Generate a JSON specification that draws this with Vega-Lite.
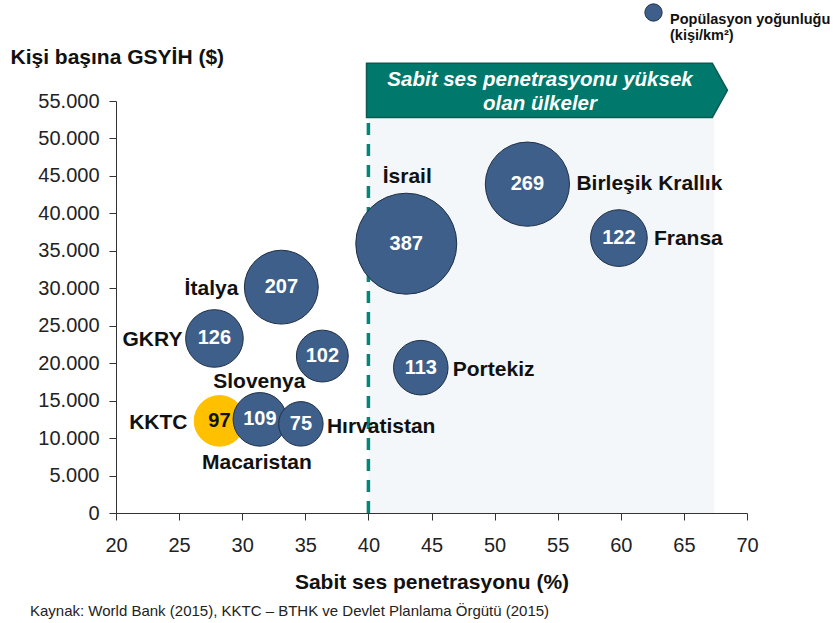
{
  "$schema": "https://vega.github.io/schema/vega-lite/v6.json",
  "width": 631,
  "height": 412,
  "autosize": {"type": "none"},
  "padding": {"left": 116, "top": 101, "right": 86, "bottom": 110},
  "background": "white",
  "config": {
    "view": {"stroke": null},
    "font": "Liberation Sans",
    "text": {"font": "Liberation Sans"}
  },
  "title": {
    "text": "Kaynak: World Bank (2015), KKTC – BTHK ve Devlet Planlama Örgütü (2015)",
    "orient": "bottom",
    "anchor": "start",
    "frame": "group",
    "dx": -86,
    "offset": 12,
    "font": "Liberation Sans",
    "fontSize": 15,
    "fontWeight": "normal",
    "color": "#222222"
  },
  "datasets": {
    "ulkeler": [
      {"ulke": "KKTC", "x": 28.2, "y": 12300, "d": 97, "grup": "KKTC"},
      {"ulke": "Macaristan", "x": 31.4, "y": 12500, "d": 109, "grup": "Popülasyon yoğunluğu"},
      {"ulke": "Hırvatistan", "x": 34.65, "y": 11900, "d": 75, "grup": "Popülasyon yoğunluğu"},
      {"ulke": "GKRY", "x": 27.8, "y": 23300, "d": 126, "grup": "Popülasyon yoğunluğu"},
      {"ulke": "İtalya", "x": 33.1, "y": 30150, "d": 207, "grup": "Popülasyon yoğunluğu"},
      {"ulke": "Slovenya", "x": 36.35, "y": 20950, "d": 102, "grup": "Popülasyon yoğunluğu"},
      {"ulke": "İsrail", "x": 43.0, "y": 35950, "d": 387, "grup": "Popülasyon yoğunluğu"},
      {"ulke": "Portekiz", "x": 44.15, "y": 19400, "d": 113, "grup": "Popülasyon yoğunluğu"},
      {"ulke": "Birleşik Krallık", "x": 52.6, "y": 43900, "d": 269, "grup": "Popülasyon yoğunluğu"},
      {"ulke": "Fransa", "x": 59.85, "y": 36700, "d": 122, "grup": "Popülasyon yoğunluğu"}
    ],
    "bolge": [{"x": 40, "x2": 67.4, "y": 0, "y2": 52800}],
    "ok": [
      {"x": 39.85, "y": 52800, "y2": 60030},
      {"x": 67.25, "y": 52800, "y2": 60030},
      {"x": 68.45, "y": 56420, "y2": 56420}
    ],
    "okYazi": [{"x": 53.6, "y": 57760, "t": "Sabit ses penetrasyonu yüksek\nolan ülkeler"}]
  },
  "encoding": {
    "x": {
      "field": "x",
      "type": "quantitative",
      "scale": {"domain": [20, 70], "nice": false, "zero": false},
      "axis": {
        "values": [20, 25, 30, 35, 40, 45, 50, 55, 60, 65, 70],
        "grid": false,
        "labelFlush": false,
        "domainColor": "#333333",
        "tickColor": "#333333",
        "tickSize": 7,
        "labelFont": "Liberation Sans",
        "labelFontSize": 20,
        "labelColor": "#222222",
        "labelPadding": 15,
        "title": "Sabit ses penetrasyonu (%)",
        "titleFont": "Liberation Sans",
        "titleFontSize": 21,
        "titleFontWeight": "bold",
        "titleColor": "#111111",
        "titlePadding": 16
      }
    },
    "y": {
      "field": "y",
      "type": "quantitative",
      "scale": {"domain": [0, 55000], "nice": false},
      "axis": {
        "values": [0, 5000, 10000, 15000, 20000, 25000, 30000, 35000, 40000, 45000, 50000, 55000],
        "labelExpr": "replace(format(datum.value, ',.0f'), ',', '.')",
        "grid": false,
        "labelFlush": false,
        "domainColor": "#333333",
        "tickColor": "#333333",
        "tickSize": 7,
        "labelFont": "Liberation Sans",
        "labelFontSize": 20,
        "labelColor": "#222222",
        "labelPadding": 10,
        "title": "Kişi başına GSYİH ($)",
        "titleFont": "Liberation Sans",
        "titleFontSize": 21,
        "titleFontWeight": "bold",
        "titleColor": "#111111",
        "titleAngle": 0,
        "titleAlign": "left",
        "titleBaseline": "middle",
        "titleX": -106,
        "titleY": -44
      }
    }
  },
  "layer": [
    {
      "data": {"name": "bolge"},
      "mark": {"type": "rect", "color": "#F3F7F9"},
      "encoding": {"x2": {"field": "x2"}, "y2": {"field": "y2"}}
    },
    {
      "data": {"name": "bolge"},
      "mark": {"type": "rule", "color": "#00877A", "strokeWidth": 3.5, "strokeDash": [12, 9]},
      "encoding": {"y2": {"field": "y2"}}
    },
    {
      "data": {"name": "ok"},
      "mark": {"type": "area", "color": "#00786B", "stroke": "#0B5B52", "strokeWidth": 1.5, "opacity": 1, "clip": false},
      "encoding": {"y2": {"field": "y2"}}
    },
    {
      "data": {"name": "okYazi"},
      "mark": {"type": "text", "color": "white", "font": "Liberation Sans", "fontSize": 20.5, "fontWeight": "bold", "fontStyle": "italic", "lineBreak": "\n", "lineHeight": 24, "align": "center", "baseline": "middle", "clip": false},
      "encoding": {"text": {"field": "t"}}
    },
    {
      "data": {"name": "ulkeler"},
      "mark": {"type": "circle", "opacity": 1, "strokeWidth": 1},
      "encoding": {
        "size": {"field": "d", "type": "quantitative", "scale": {"type": "linear", "domain": [0, 387], "range": [0, 10200]}, "legend": null},
        "color": {
          "field": "grup",
          "type": "nominal",
          "scale": {"domain": ["Popülasyon yoğunluğu", "KKTC"], "range": ["#3D5F89", "#FFC000"]},
          "legend": {
            "orient": "none",
            "legendX": 528,
            "legendY": -98,
            "values": ["Popülasyon yoğunluğu"],
            "title": null,
            "padding": 0,
            "symbolType": "circle",
            "symbolSize": 300,
            "symbolStrokeColor": "#1F2F45",
            "symbolStrokeWidth": 1,
            "symbolOpacity": 1,
            "labelExpr": "['Popülasyon yoğunluğu', '(kişi/km²)']",
            "labelFont": "Liberation Sans",
            "labelFontSize": 14.5,
            "labelFontWeight": "bold",
            "labelColor": "#111111",
            "labelBaseline": "top",
            "labelLimit": 300,
            "labelOffset": 7
          }
        },
        "stroke": {"condition": {"test": "datum.ulke === 'KKTC'", "value": "#FFC000"}, "value": "#1F2F45"}
      }
    },
    {
      "data": {"name": "ulkeler"},
      "mark": {"type": "text", "font": "Liberation Sans", "fontSize": 20, "fontWeight": "bold", "align": "center", "baseline": "middle"},
      "encoding": {
        "text": {"field": "d"},
        "color": {"condition": {"test": "datum.ulke === 'KKTC'", "value": "#111111"}, "value": "#FFFFFF"}
      }
    },
    {
      "data": {"name": "ulkeler"},
      "transform": [{"filter": "datum.ulke === 'KKTC'"}],
      "mark": {"type": "text", "fontSize": 21, "fontWeight": "bold", "color": "#111111", "align": "right", "baseline": "middle", "dx": -32, "dy": 2},
      "encoding": {"text": {"field": "ulke"}}
    },
    {
      "data": {"name": "ulkeler"},
      "transform": [{"filter": "datum.ulke === 'Macaristan'"}],
      "mark": {"type": "text", "fontSize": 21, "fontWeight": "bold", "color": "#111111", "align": "center", "baseline": "middle", "dx": -3, "dy": 44},
      "encoding": {"text": {"field": "ulke"}}
    },
    {
      "data": {"name": "ulkeler"},
      "transform": [{"filter": "datum.ulke === 'Hırvatistan'"}],
      "mark": {"type": "text", "fontSize": 21, "fontWeight": "bold", "color": "#111111", "align": "left", "baseline": "middle", "dx": 26, "dy": 3},
      "encoding": {"text": {"field": "ulke"}}
    },
    {
      "data": {"name": "ulkeler"},
      "transform": [{"filter": "datum.ulke === 'GKRY'"}],
      "mark": {"type": "text", "fontSize": 21, "fontWeight": "bold", "color": "#111111", "align": "right", "baseline": "middle", "dx": -32, "dy": 2},
      "encoding": {"text": {"field": "ulke"}}
    },
    {
      "data": {"name": "ulkeler"},
      "transform": [{"filter": "datum.ulke === 'İtalya'"}],
      "mark": {"type": "text", "fontSize": 21, "fontWeight": "bold", "color": "#111111", "align": "right", "baseline": "middle", "dx": -43, "dy": 2},
      "encoding": {"text": {"field": "ulke"}}
    },
    {
      "data": {"name": "ulkeler"},
      "transform": [{"filter": "datum.ulke === 'Slovenya'"}],
      "mark": {"type": "text", "fontSize": 21, "fontWeight": "bold", "color": "#111111", "align": "center", "baseline": "middle", "dx": -63, "dy": 26},
      "encoding": {"text": {"field": "ulke"}}
    },
    {
      "data": {"name": "ulkeler"},
      "transform": [{"filter": "datum.ulke === 'İsrail'"}],
      "mark": {"type": "text", "fontSize": 21, "fontWeight": "bold", "color": "#111111", "align": "center", "baseline": "middle", "dx": 1, "dy": -67},
      "encoding": {"text": {"field": "ulke"}}
    },
    {
      "data": {"name": "ulkeler"},
      "transform": [{"filter": "datum.ulke === 'Portekiz'"}],
      "mark": {"type": "text", "fontSize": 21, "fontWeight": "bold", "color": "#111111", "align": "left", "baseline": "middle", "dx": 32, "dy": 2},
      "encoding": {"text": {"field": "ulke"}}
    },
    {
      "data": {"name": "ulkeler"},
      "transform": [{"filter": "datum.ulke === 'Birleşik Krallık'"}],
      "mark": {"type": "text", "fontSize": 21, "fontWeight": "bold", "color": "#111111", "align": "left", "baseline": "middle", "dx": 49, "dy": 0},
      "encoding": {"text": {"field": "ulke"}}
    },
    {
      "data": {"name": "ulkeler"},
      "transform": [{"filter": "datum.ulke === 'Fransa'"}],
      "mark": {"type": "text", "fontSize": 21, "fontWeight": "bold", "color": "#111111", "align": "left", "baseline": "middle", "dx": 35, "dy": 1},
      "encoding": {"text": {"field": "ulke"}}
    }
  ]
}
